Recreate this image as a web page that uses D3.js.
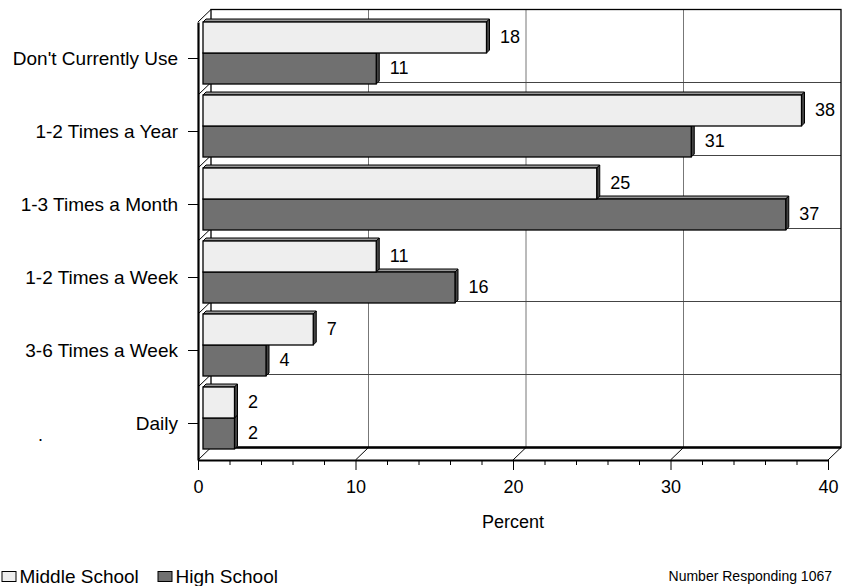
<!DOCTYPE html>
<html>
<head>
<meta charset="utf-8">
<script src="https://cdn.jsdelivr.net/npm/d3@7"></script>
<style>
  body { margin: 0; background: #fff; }
  svg text { font-family: Arial, "Liberation Sans", sans-serif; fill: #000; }
</style>
</head>
<body>
<div id="chart"></div>
<script>
// categories top to bottom
var categories = ["Don't Currently Use", "1-2 Times a Year", "1-3 Times a Month", "1-2 Times a Week", "3-6 Times a Week", "Daily"];
var middleSchool = [18, 38, 25, 11, 7, 2];
var highSchool = [11, 31, 37, 16, 4, 2];
var seriesNames = ["Middle School", "High School"];
var xTicks = [0, 10, 20, 30, 40];
var xTitle = "Percent";
var footNote = "Number Responding 1067";

var width = 848, height = 586;
var lightFill = "#eeeeee", darkFill = "#707070";

// front plane of the 3d box (note: "top" is taken by window.top)
var plotLeft = 198, plotRight = 828, plotTop = 22, plotBottom = 460;
var depthX = 13, depthY = -12.5;   // offset to the back wall
var barOff = 5;                    // bars sit a bit behind the front
var barDepth = 3;

var svg = d3.select("#chart").append("svg")
    .attr("width", width)
    .attr("height", height);

var x = d3.scaleLinear().domain([0, 40]).range([plotLeft, plotRight]);
var y = d3.scaleBand().domain(categories).range([plotTop, plotBottom]);
var barH = 31;

// back wall grid
var back = svg.append("g");
[10, 20, 30].forEach(function(v) {
  back.append("line")
      .attr("x1", x(v) + depthX).attr("x2", x(v) + depthX)
      .attr("y1", plotTop + depthY).attr("y2", plotBottom + depthY)
      .attr("stroke", "#777").attr("stroke-width", 1);
});
categories.forEach(function(c, i) {
  if (i === 0) return;
  back.append("line")
      .attr("x1", plotLeft + depthX).attr("x2", plotRight + depthX)
      .attr("y1", y(c) + depthY).attr("y2", y(c) + depthY)
      .attr("stroke", "#444").attr("stroke-width", 1);
  // left side wall diagonals
  back.append("line")
      .attr("x1", plotLeft).attr("x2", plotLeft + depthX)
      .attr("y1", y(c)).attr("y2", y(c) + depthY)
      .attr("stroke", "#000").attr("stroke-width", 1);
});

// back wall frame
back.append("rect")
    .attr("x", plotLeft + depthX).attr("y", plotTop + depthY)
    .attr("width", plotRight - plotLeft).attr("height", plotBottom - plotTop)
    .attr("fill", "none").attr("stroke", "#000").attr("stroke-width", 1.3);
back.append("line")
    .attr("x1", plotLeft + depthX).attr("x2", plotRight + depthX)
    .attr("y1", plotBottom + depthY).attr("y2", plotBottom + depthY)
    .attr("stroke", "#000").attr("stroke-width", 2.5);

// floor diagonals
xTicks.forEach(function(v) {
  back.append("line")
      .attr("x1", x(v)).attr("x2", x(v) + depthX)
      .attr("y1", plotBottom).attr("y2", plotBottom + depthY)
      .attr("stroke", "#000").attr("stroke-width", 1);
});
back.append("line")
    .attr("x1", plotLeft).attr("x2", plotLeft + depthX)
    .attr("y1", plotTop).attr("y2", plotTop + depthY)
    .attr("stroke", "#000").attr("stroke-width", 1);

// bars
function drawBar(g, x0, x1, y0, h, fill) {
  var d = barDepth;
  // top face
  g.append("path")
      .attr("d", "M" + x0 + "," + y0 + "L" + (x0 + d) + "," + (y0 - d) +
                 "L" + (x1 + d) + "," + (y0 - d) + "L" + x1 + "," + y0 + "Z")
      .attr("fill", "#999").attr("stroke", "#000").attr("stroke-width", 1);
  // right face
  g.append("path")
      .attr("d", "M" + x1 + "," + y0 + "L" + (x1 + d) + "," + (y0 - d) +
                 "L" + (x1 + d) + "," + (y0 + h - d) + "L" + x1 + "," + (y0 + h) + "Z")
      .attr("fill", "#444").attr("stroke", "#000").attr("stroke-width", 1);
  g.append("rect")
      .attr("x", x0).attr("y", y0)
      .attr("width", x1 - x0).attr("height", h)
      .attr("fill", fill).attr("stroke", "#000").attr("stroke-width", 1.3);
}

var bars = svg.append("g");
categories.forEach(function(c, i) {
  var y0 = y(c);
  // lower (high school) bar first so the upper bar's faces sit on top
  drawBar(bars, x(0) + barOff, x(highSchool[i]) + barOff, y0 + barH, barH, darkFill);
  drawBar(bars, x(0) + barOff, x(middleSchool[i]) + barOff, y0, barH, lightFill);

  bars.append("text")
      .attr("x", x(middleSchool[i]) + barOff + 13.5)
      .attr("y", y0 + barH / 2 + 5)
      .attr("font-size", 18)
      .text(middleSchool[i]);
  bars.append("text")
      .attr("x", x(highSchool[i]) + barOff + 13.5)
      .attr("y", y0 + barH * 1.5 + 5)
      .attr("font-size", 18)
      .text(highSchool[i]);
});

// front axes
var xAxis = d3.axisBottom(x)
    .tickValues(d3.range(0, 41, 2))
    .tickSize(5)
    .tickSizeOuter(0)
    .tickFormat(function(d) { return d % 10 === 0 ? d : ""; });

var gx = svg.append("g")
    .attr("transform", "translate(0," + plotBottom + ")")
    .call(xAxis);
gx.select(".domain").attr("stroke", "#000").attr("stroke-width", 2.2);
gx.selectAll(".tick line")
    .attr("y2", function(d) { return d % 10 === 0 ? 10 : 5; })
    .attr("stroke", "#000");
gx.selectAll(".tick text")
    .attr("y", 20)
    .attr("font-size", 18)
    .attr("font-family", "Arial, 'Liberation Sans', sans-serif");

var yAxis = d3.axisLeft(y).tickSize(10).tickPadding(10).tickSizeOuter(0);
var gy = svg.append("g")
    .attr("transform", "translate(" + plotLeft + ",0)")
    .call(yAxis);
gy.select(".domain").attr("stroke", "#000").attr("stroke-width", 2.2);
gy.selectAll(".tick line").attr("stroke", "#000");
gy.selectAll(".tick text")
    .attr("font-size", 19)
    .attr("font-family", "Arial, 'Liberation Sans', sans-serif");

// axis title
svg.append("text")
    .attr("x", (plotLeft + plotRight) / 2)
    .attr("y", 528)
    .attr("text-anchor", "middle")
    .attr("font-size", 18)
    .text(xTitle);

// stray dot in the original
svg.append("text")
    .attr("x", 38).attr("y", 441)
    .attr("font-size", 18)
    .text(".");

// legend
var legend = svg.append("g");
var legendX = [2, 158];
seriesNames.forEach(function(name, i) {
  legend.append("rect")
      .attr("x", legendX[i]).attr("y", 571.5)
      .attr("width", 14).attr("height", 10)
      .attr("fill", i === 0 ? lightFill : darkFill)
      .attr("stroke", "#000").attr("stroke-width", 1);
  legend.append("text")
      .attr("x", legendX[i] + 17.5)
      .attr("y", 582.5)
      .attr("font-size", 19)
      .text(name);
});

svg.append("text")
    .attr("x", 832)
    .attr("y", 581)
    .attr("text-anchor", "end")
    .attr("font-size", 14)
    .text(footNote);
</script>
</body>
</html>
